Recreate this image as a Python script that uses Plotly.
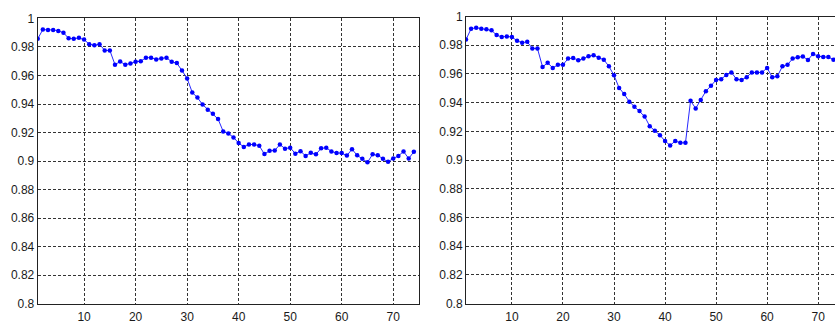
import plotly.graph_objects as go

x_left = list(range(1, 75))
y_left = [0.9857, 0.9922, 0.992, 0.992, 0.9913, 0.990, 0.9861, 0.9857, 0.9864, 0.9852,
          0.982, 0.9812, 0.982, 0.9776, 0.9776, 0.9676, 0.9698, 0.9676, 0.9685, 0.9696,
          0.970, 0.9725, 0.9725, 0.9713, 0.972, 0.9725, 0.9696, 0.9687, 0.9635, 0.9579,
          0.9481, 0.9445, 0.9396, 0.9360, 0.9331, 0.9295, 0.9208, 0.9193, 0.9166, 0.9126,
          0.9099, 0.9116, 0.9116, 0.9107, 0.9049, 0.9072, 0.9074, 0.9116, 0.9087, 0.9094,
          0.9052, 0.9069, 0.9036, 0.9058, 0.9047, 0.9089, 0.9094, 0.9067, 0.9056, 0.9056,
          0.9038, 0.9083, 0.904, 0.9016, 0.8991, 0.9047, 0.904, 0.9016, 0.8995, 0.9018,
          0.9036, 0.9067, 0.9018, 0.9065]

x_right = list(range(1, 74))
y_right = [0.984, 0.9915, 0.9922, 0.9915, 0.9911, 0.9904, 0.9871, 0.9858, 0.9862, 0.9858,
           0.9831, 0.9818, 0.9824, 0.9778, 0.9778, 0.9649, 0.9678, 0.9642, 0.9664, 0.9664,
           0.9707, 0.9711, 0.9696, 0.9707, 0.9724, 0.9731, 0.9713, 0.970, 0.9653, 0.9591,
           0.9503, 0.946, 0.9407, 0.9371, 0.9342, 0.9304, 0.9236, 0.9204, 0.9173, 0.9133,
           0.9102, 0.9133, 0.912, 0.912, 0.9413, 0.936, 0.9418, 0.948, 0.9518, 0.9558,
           0.9564, 0.9593, 0.9611, 0.9564, 0.9558, 0.9578, 0.9611, 0.9611, 0.9611, 0.9642,
           0.9578, 0.9584, 0.9653, 0.9664, 0.9707, 0.9716, 0.9722, 0.9698, 0.974, 0.9724,
           0.9718, 0.9718, 0.970]

x_ticks = [10, 20, 30, 40, 50, 60, 70]
y_ticks = [0.8, 0.82, 0.84, 0.86, 0.88, 0.9, 0.92, 0.94, 0.96, 0.98, 1.0]
y_tick_labels = ["0.8", "0.82", "0.84", "0.86", "0.88", "0.9", "0.92", "0.94", "0.96", "0.98", "1"]

W, H = 835, 324
line_style = dict(color="rgb(40,40,255)", width=1)
marker_style = dict(color="rgb(0,0,255)", size=4.5, symbol="circle")

fig = go.Figure()
fig.add_trace(go.Scatter(x=x_left, y=y_left, mode="lines+markers", line=line_style,
                         marker=marker_style, xaxis="x", yaxis="y", showlegend=False))
fig.add_trace(go.Scatter(x=x_right, y=y_right, mode="lines+markers", line=line_style,
                         marker=marker_style, xaxis="x2", yaxis="y2", showlegend=False))

font = dict(family="Liberation Sans, Arial, sans-serif", size=12, color="#1a1a1a")
grid = dict(showgrid=True, gridcolor="#333", griddash="3px,2px", gridwidth=1,
            zeroline=False, showline=True, linecolor="#222", linewidth=1,
            ticks="", tickfont=font)
xgrid = dict(grid, ticklabelstandoff=2)

fig.update_layout(
    width=W, height=H,
    margin=dict(l=0, r=0, t=0, b=0),
    paper_bgcolor="white", plot_bgcolor="white",
    xaxis=dict(domain=[37.7 / W, 419 / W], range=[1, 75], tickvals=x_ticks,
               mirror=True, anchor="y", **xgrid),
    yaxis=dict(domain=[(H - 310) / H, (H - 12) / H], range=[0.8, 1.0], tickvals=y_ticks,
               ticktext=y_tick_labels, mirror=True, anchor="x", **grid),
    xaxis2=dict(domain=[466 / W, 1.0], range=[1, 73.3], tickvals=x_ticks,
                mirror=True, anchor="y2", **xgrid),
    yaxis2=dict(domain=[(H - 310) / H, (H - 10) / H], range=[0.8, 1.0], tickvals=y_ticks,
                ticktext=y_tick_labels, mirror=False, anchor="x2", **grid),
)

fig.write_html("out.html", config={"displayModeBar": False},
               post_script="document.body.style.margin='0';document.body.style.overflow='hidden';")
